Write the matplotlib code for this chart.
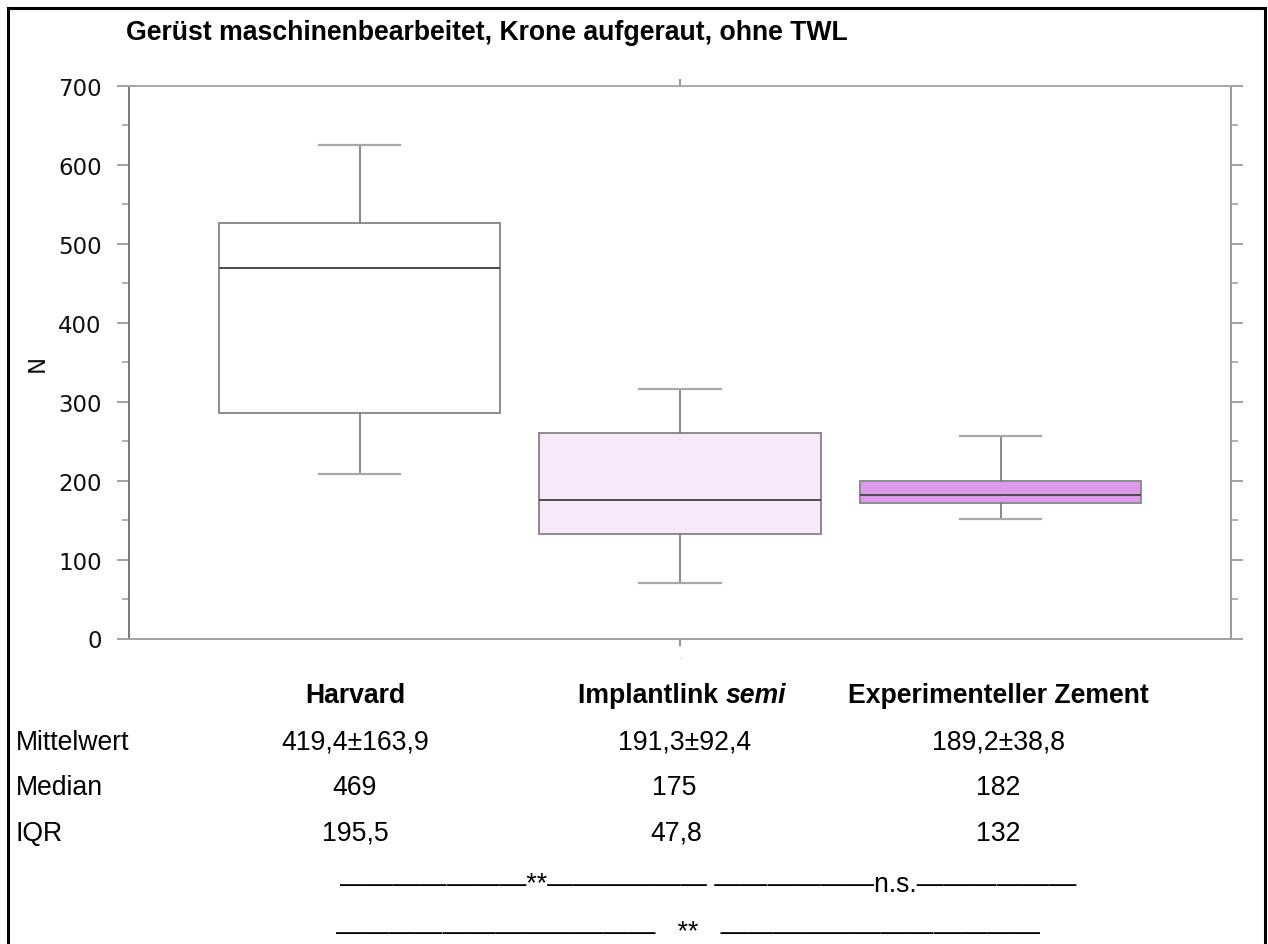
import matplotlib
matplotlib.use("Agg")
import matplotlib.pyplot as plt
from matplotlib.patches import Rectangle
from matplotlib.ticker import MultipleLocator

# ---------------- data ----------------
title = "Gerüst maschinenbearbeitet, Krone aufgeraut, ohne TWL"
groups = ["Harvard", "Implantlink", "Experimenteller Zement"]
group_suffix = ["", "semi", ""]
whislo = [208, 70, 151]
q1 = [285, 132, 172]
med = [469, 175, 182]
q3 = [526, 260, 200]
whishi = [625, 316, 257]
face_colors = ["#ffffff", "#f9e7fb", "#dc9aea"]

row_labels = ["Mittelwert", "Median", "IQR"]
mittelwert = ["419,4±163,9", "191,3±92,4", "189,2±38,8"]
median_txt = ["469", "175", "182"]
iqr_txt = ["195,5", "47,8", "132"]

W, H = 1268, 945
fig = plt.figure(figsize=(W / 100, H / 100), dpi=100)


def fx(x):
    return x / W


def fy(y):
    return 1 - y / H


ax = fig.add_axes([fx(128.6), fy(639.5), fx(1231) - fx(128.6), fy(86.7) - fy(639.5)])

stats = []
for i in range(len(groups)):
    stats.append(dict(med=med[i], q1=q1[i], q3=q3[i], whislo=whislo[i],
                      whishi=whishi[i], label=""))

edge = "#8c8c8c"
bp = ax.bxp(stats, positions=[1, 2, 3], widths=0.878, capwidths=0.255,
            patch_artist=True, showfliers=False,
            boxprops=dict(edgecolor=edge, linewidth=1.4),
            whiskerprops=dict(color="#808080", linewidth=1.3),
            capprops=dict(color="#a8a8a8", linewidth=1.6),
            medianprops=dict(color="#4a4a4a", linewidth=1.4))
for patch, c in zip(bp["boxes"], face_colors):
    patch.set_facecolor(c)

ax.set_xlim(0.2796, 3.719)
ax.set_ylim(0, 700)
ax.set_xticks([2])
ax.set_xticklabels(["."], fontsize=6, color="#888888")
ax.yaxis.set_major_locator(MultipleLocator(100))
ax.yaxis.set_minor_locator(MultipleLocator(50))
ax.spines["left"].set_color("#7a7a7a")
ax.spines["right"].set_color("#9a9a9a")
ax.spines["top"].set_color("#a8a8a8")
ax.spines["bottom"].set_color("#a0a0a0")
for s in ax.spines.values():
    s.set_linewidth(1.4)
ax.tick_params(axis="y", which="major", direction="out", length=8.6, width=1.3,
               color="#9a9a9a", left=True, right=True, labelsize=16.5,
               labelcolor="#111111", pad=10.8)
ax.tick_params(axis="y", which="minor", direction="out", length=5, width=1.1,
               color="#9a9a9a", left=True, right=True)
ax.tick_params(axis="x", which="major", direction="out", length=5, width=1.1,
               color="#777777", top=True, bottom=True, pad=4)
ax.set_ylabel("N", fontsize=16.5, color="#111111")
ax.yaxis.set_label_coords(-0.072, 0.5)

# ---------------- texts ----------------
tfont = "Liberation Sans"
fs = 19.2
fig.text(fx(126), fy(40), title, fontsize=fs, fontweight="bold",
         family=tfont, ha="left", va="baseline")

col_x = [355, 682, 998]
head_y = 703
fig.canvas.draw()
renderer = fig.canvas.get_renderer()
for cx, g, suf in zip(col_x, groups, group_suffix):
    if not suf:
        fig.text(fx(cx), fy(head_y), g, fontsize=fs, fontweight="bold",
                 family=tfont, ha="center", va="baseline")
    else:
        t1 = fig.text(0, fy(head_y), g + " ", fontsize=fs, fontweight="bold",
                      family=tfont, ha="left", va="baseline")
        t2 = fig.text(0, fy(head_y), suf, fontsize=fs, fontweight="bold",
                      style="italic", family=tfont, ha="left", va="baseline")
        w1 = t1.get_window_extent(renderer).width
        w2 = t2.get_window_extent(renderer).width
        x0 = cx - (w1 + w2) / 2
        t1.set_x(fx(x0))
        t2.set_x(fx(x0 + w1))

row_y = [750, 795, 841]
rows = [mittelwert, median_txt, iqr_txt]
val_x = [[355, 685, 998], [355, 674, 998], [355, 676, 998]]
for ry, lab, vals, vx in zip(row_y, row_labels, rows, val_x):
    fig.text(fx(15.5), fy(ry), lab, fontsize=fs, family=tfont, ha="left", va="baseline")
    for cx, v in zip(vx, vals):
        fig.text(fx(cx), fy(ry), v, fontsize=fs, family=tfont, ha="center", va="baseline")

D = "\u2014"
sig1 = D * 7 + "**" + D * 6 + " " + D * 6 + "n.s." + D * 6
sig2 = D * 12 + "   **   " + D * 12
fig.text(fx(340), fy(892), sig1, fontsize=fs, family=tfont, ha="left", va="baseline")
fig.text(fx(336), fy(940), sig2, fontsize=fs, family=tfont, ha="left", va="baseline")

# outer frame
fig.patches.append(Rectangle((fx(7.5), -0.05), fx(1265) - fx(7.5), fy(9.3) + 0.05,
                             transform=fig.transFigure, fill=False,
                             edgecolor="black", linewidth=2.2))

fig.savefig("out.png", dpi=100)
